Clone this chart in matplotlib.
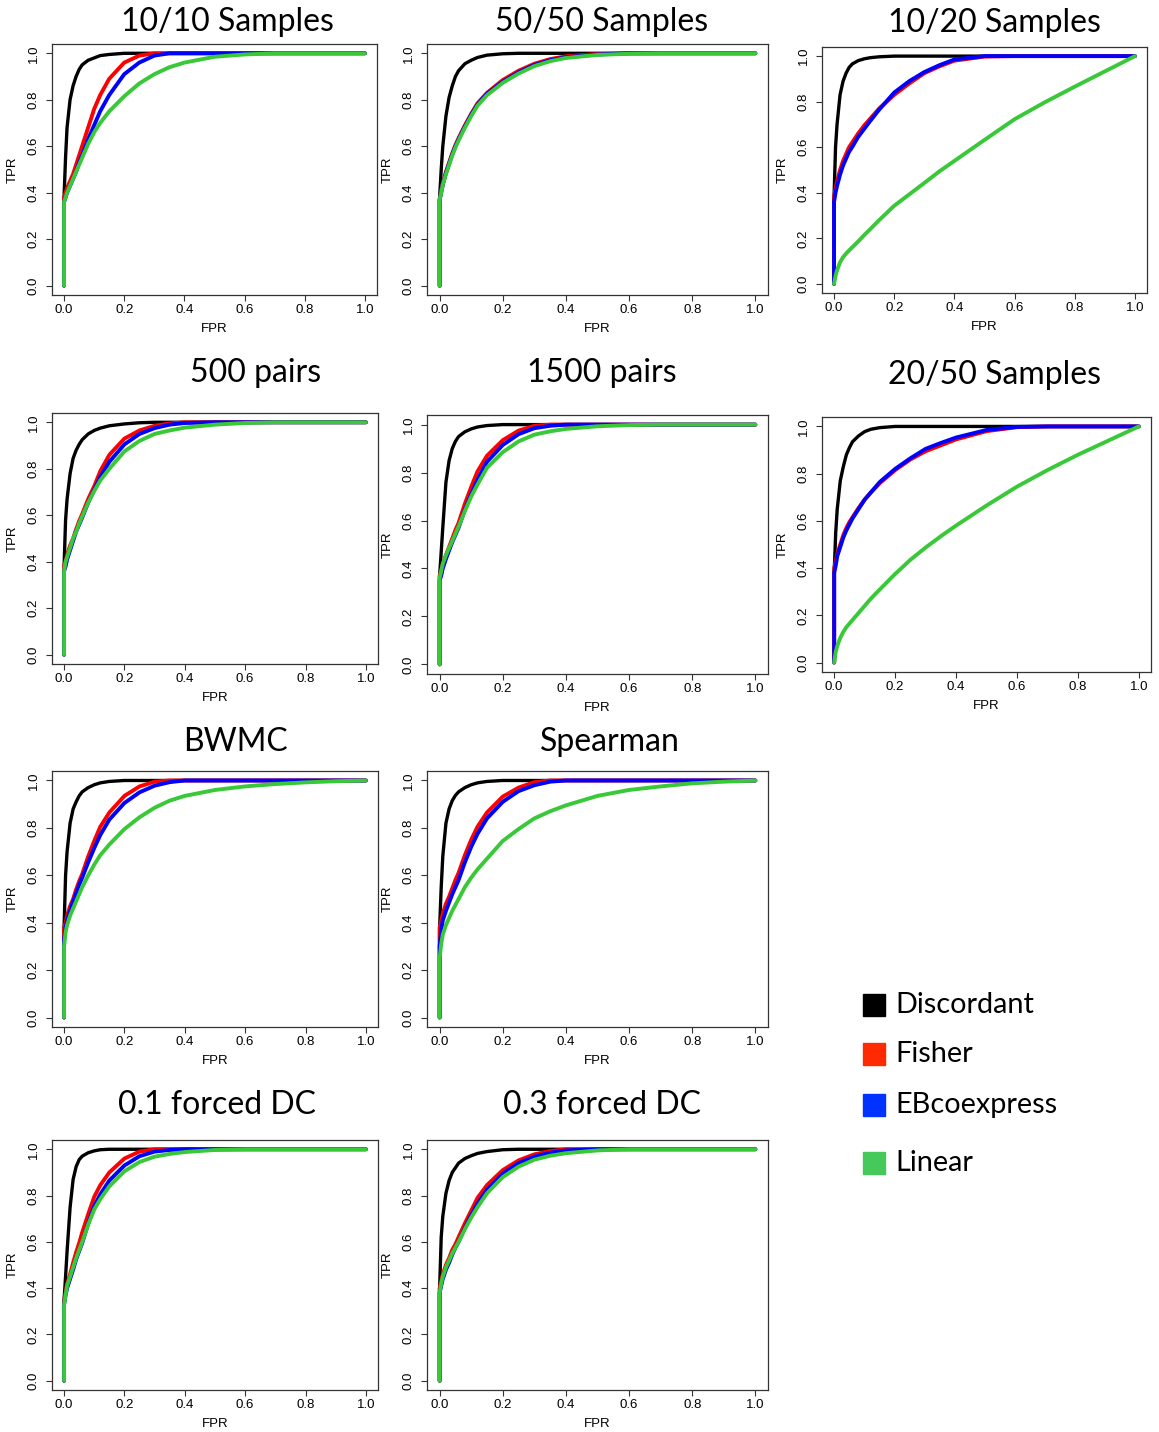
import matplotlib
matplotlib.use("Agg")
import matplotlib.pyplot as plt
from matplotlib.patches import Rectangle

# ROC curves, all read on the same FPR grid (first two points: start and jump at FPR=0)
fpr = [0, 0, 0.005, 0.01, 0.02, 0.03, 0.04, 0.05, 0.06, 0.08, 0.1, 0.12,
       0.15, 0.2, 0.25, 0.3, 0.35, 0.4, 0.5, 0.6, 0.7, 0.8, 0.9, 1.0]

methods = ["Discordant", "Fisher", "EBcoexpress", "Linear"]
line_colors = ["#000000", "#ff0000", "#0000ff", "#38c838"]
legend_colors = ["#000000", "#ff2a00", "#0033ff", "#44c95a"]

tpr_10_10 = {
    "Discordant":  [0, .38, .55, .68, .80, .86, .90, .93, .95, .97, .98, .99, .995, 1, 1, 1, 1, 1, 1, 1, 1, 1, 1, 1],
    "Fisher":      [0, .38, .40, .42, .45, .48, .52, .56, .60, .68, .76, .82, .89, .96, .99, 1, 1, 1, 1, 1, 1, 1, 1, 1],
    "EBcoexpress": [0, .36, .38, .40, .43, .46, .49, .53, .56, .63, .69, .75, .82, .91, .96, .99, 1, 1, 1, 1, 1, 1, 1, 1],
    "Linear":      [0, .36, .38, .40, .43, .46, .49, .52, .55, .61, .66, .70, .75, .815, .87, .91, .94, .96, .985, .995, 1, 1, 1, 1],
}
tpr_50_50 = {
    "Discordant":  [0, .38, .50, .60, .73, .81, .86, .90, .925, .955, .97, .982, .992, .998, 1, 1, 1, 1, 1, 1, 1, 1, 1, 1],
    "Fisher":      [0, .37, .41, .44, .49, .53, .57, .605, .635, .69, .74, .785, .83, .885, .925, .955, .975, .987, .997, 1, 1, 1, 1, 1],
    "EBcoexpress": [0, .37, .40, .435, .485, .525, .565, .60, .63, .685, .735, .78, .825, .878, .918, .95, .97, .983, .995, 1, 1, 1, 1, 1],
    "Linear":      [0, .37, .40, .435, .48, .52, .56, .595, .625, .68, .73, .775, .82, .873, .913, .945, .966, .98, .993, .998, 1, 1, 1, 1],
}
tpr_10_20 = {
    "Discordant":  [0, .38, .60, .70, .83, .89, .925, .95, .965, .98, .988, .993, .997, 1, 1, 1, 1, 1, 1, 1, 1, 1, 1, 1],
    "Fisher":      [0, .38, .42, .45, .50, .54, .57, .60, .62, .66, .695, .725, .77, .83, .88, .925, .955, .98, .998, 1, 1, 1, 1, 1],
    "EBcoexpress": [0, .36, .40, .43, .48, .52, .55, .58, .60, .645, .68, .715, .765, .84, .89, .93, .96, .985, 1, 1, 1, 1, 1, 1],
    "Linear":      [0, 0, .035, .06, .095, .117, .133, .147, .16, .186, .214, .24, .28, .343, .393, .443, .494, .54, .632, .723, .797, .866, .933, 1],
}
tpr_500 = {
    "Discordant":  [0, .38, .58, .67, .78, .845, .88, .905, .925, .95, .965, .975, .985, .993, .998, 1, 1, 1, 1, 1, 1, 1, 1, 1],
    "Fisher":      [0, .38, .40, .43, .47, .50, .54, .575, .605, .67, .725, .79, .86, .93, .965, .985, .995, 1, 1, 1, 1, 1, 1, 1],
    "EBcoexpress": [0, .36, .38, .41, .45, .49, .53, .56, .59, .655, .71, .765, .83, .905, .95, .975, .99, .997, 1, 1, 1, 1, 1, 1],
    "Linear":      [0, .36, .40, .42, .46, .50, .53, .565, .595, .655, .705, .75, .80, .875, .92, .95, .965, .977, .99, .997, 1, 1, 1, 1],
}
tpr_1500 = {
    "Discordant":  [0, .37, .47, .57, .76, .85, .90, .93, .95, .97, .982, .99, .996, 1, 1, 1, 1, 1, 1, 1, 1, 1, 1, 1],
    "Fisher":      [0, .37, .39, .42, .455, .49, .525, .56, .59, .67, .74, .805, .87, .935, .975, .995, 1, 1, 1, 1, 1, 1, 1, 1],
    "EBcoexpress": [0, .35, .37, .40, .44, .475, .51, .54, .57, .645, .71, .77, .845, .915, .96, .985, .995, 1, 1, 1, 1, 1, 1, 1],
    "Linear":      [0, .36, .39, .42, .455, .485, .515, .545, .575, .64, .70, .75, .82, .885, .93, .958, .972, .982, .993, .998, 1, 1, 1, 1],
}
tpr_20_50 = {
    "Discordant":  [0, .38, .55, .65, .77, .83, .88, .91, .935, .96, .978, .988, .995, 1, 1, 1, 1, 1, 1, 1, 1, 1, 1, 1],
    "Fisher":      [0, .40, .43, .46, .50, .54, .57, .595, .615, .655, .69, .72, .76, .815, .86, .895, .92, .945, .98, .997, 1, 1, 1, 1],
    "EBcoexpress": [0, .38, .41, .45, .49, .53, .56, .585, .61, .65, .69, .72, .765, .82, .865, .905, .93, .953, .985, .998, 1, 1, 1, 1],
    "Linear":      [0, 0, .045, .07, .105, .13, .15, .165, .18, .21, .24, .27, .31, .375, .435, .487, .535, .58, .665, .745, .815, .88, .94, 1],
}
tpr_bwmc = {
    "Discordant":  [0, .38, .60, .70, .82, .88, .91, .935, .952, .97, .982, .99, .996, 1, 1, 1, 1, 1, 1, 1, 1, 1, 1, 1],
    "Fisher":      [0, .38, .40, .43, .47, .50, .54, .575, .605, .68, .745, .805, .865, .935, .975, .995, 1, 1, 1, 1, 1, 1, 1, 1],
    "EBcoexpress": [0, .33, .38, .41, .45, .49, .525, .56, .59, .655, .715, .77, .835, .905, .95, .978, .993, 1, 1, 1, 1, 1, 1, 1],
    "Linear":      [0, .30, .36, .39, .43, .46, .49, .52, .55, .60, .645, .685, .73, .795, .845, .885, .915, .935, .96, .975, .985, .992, .997, 1],
}
tpr_spearman = {
    "Discordant":  [0, .38, .55, .68, .82, .88, .915, .937, .952, .97, .982, .99, .996, 1, 1, 1, 1, 1, 1, 1, 1, 1, 1, 1],
    "Fisher":      [0, .38, .41, .44, .48, .51, .545, .58, .61, .685, .75, .805, .865, .932, .97, .993, 1, 1, 1, 1, 1, 1, 1, 1],
    "EBcoexpress": [0, .30, .37, .41, .45, .485, .52, .55, .58, .655, .72, .775, .84, .91, .955, .98, .995, 1, 1, 1, 1, 1, 1, 1],
    "Linear":      [0, .25, .31, .35, .39, .42, .45, .475, .50, .55, .59, .625, .67, .745, .795, .84, .87, .895, .935, .96, .975, .988, .995, 1],
}
tpr_forced_01 = {
    "Discordant":  [0, .35, .45, .56, .75, .87, .925, .955, .97, .985, .993, .998, 1, 1, 1, 1, 1, 1, 1, 1, 1, 1, 1, 1],
    "Fisher":      [0, .34, .38, .42, .46, .51, .555, .595, .64, .72, .795, .845, .90, .96, .99, 1, 1, 1, 1, 1, 1, 1, 1, 1],
    "EBcoexpress": [0, .33, .37, .40, .44, .48, .525, .56, .595, .68, .755, .805, .865, .93, .97, .99, .997, 1, 1, 1, 1, 1, 1, 1],
    "Linear":      [0, .33, .37, .41, .45, .49, .53, .565, .60, .675, .74, .785, .84, .905, .945, .968, .98, .988, .997, 1, 1, 1, 1, 1],
}
tpr_forced_03 = {
    "Discordant":  [0, .40, .62, .71, .81, .865, .90, .92, .94, .96, .972, .982, .99, .998, 1, 1, 1, 1, 1, 1, 1, 1, 1, 1],
    "Fisher":      [0, .40, .43, .46, .50, .53, .565, .59, .62, .68, .735, .79, .845, .91, .952, .978, .992, 1, 1, 1, 1, 1, 1, 1],
    "EBcoexpress": [0, .38, .41, .44, .48, .51, .545, .575, .60, .66, .715, .765, .825, .895, .94, .968, .985, .995, 1, 1, 1, 1, 1, 1],
    "Linear":      [0, .38, .42, .45, .49, .52, .55, .575, .60, .655, .705, .75, .81, .88, .925, .955, .972, .983, .995, 1, 1, 1, 1, 1],
}

W, H = 1159, 1432
fig = plt.figure(figsize=(W / 100, H / 100), dpi=100)

title_font = ["Lato", "DejaVu Sans"]
axis_font = ["Liberation Sans", "DejaVu Sans"]

# title, curves, plot box in pixels (left, top, right, bottom), title centre in pixels
panels = [
    ("10/10 Samples", tpr_10_10, (52, 44, 377, 295), (227, 22)),
    ("50/50 Samples", tpr_50_50, (427, 44, 768, 295), (602, 22)),
    ("10/20 Samples", tpr_10_20, (822, 47, 1147, 293), (994, 23)),
    ("500 pairs", tpr_500, (52, 413, 378, 664), (256, 373)),
    ("1500 pairs", tpr_1500, (427, 415, 768, 674), (602, 373)),
    ("20/50 Samples", tpr_20_50, (822, 417, 1151, 672), (994, 375)),
    ("BWMC", tpr_bwmc, (52, 771, 378, 1027), (236, 742)),
    ("Spearman", tpr_spearman, (427, 771, 768, 1027), (610, 742)),
    ("0.1 forced DC", tpr_forced_01, (52, 1140, 378, 1390), (217, 1105)),
    ("0.3 forced DC", tpr_forced_03, (427, 1140, 768, 1390), (602, 1105)),
]

ticks = [0.0, 0.2, 0.4, 0.6, 0.8, 1.0]
for title, curves, (l, t, r, b), (tx, ty) in panels:
    ax = fig.add_axes([l / W, 1 - b / H, (r - l) / W, (b - t) / H])
    for m, c in zip(methods, line_colors):
        ax.plot(fpr, curves[m], color=c, lw=2.8 if m != "Discordant" else 2.4,
                solid_capstyle="round", solid_joinstyle="round")
    ax.set_xlim(-0.04, 1.04)
    ax.set_ylim(-0.04, 1.04)
    ax.set_xticks(ticks)
    ax.set_yticks(ticks)
    ax.set_xticklabels([f"{v:.1f}" for v in ticks], fontfamily=axis_font, fontsize=9.5)
    ax.set_yticklabels([f"{v:.1f}" for v in ticks], fontfamily=axis_font, fontsize=9.5,
                       rotation=90, va="center")
    ax.tick_params(direction="out", length=4, width=0.8, color="#333333")
    ax.tick_params(axis="x", pad=2.5)
    ax.tick_params(axis="y", pad=5)
    for s in ax.spines.values():
        s.set_color("#333333")
        s.set_linewidth(0.9)
    ax.set_xlabel("FPR", fontfamily=axis_font, fontsize=9.5, labelpad=5)
    ax.set_ylabel("TPR", fontfamily=axis_font, fontsize=9.5, labelpad=6)
    fig.text(tx / W, 1 - ty / H, title, fontfamily=title_font, fontsize=23,
             ha="center", va="center")

# legend drawn as coloured squares with labels
legend_rows = [1005, 1054, 1105, 1163]
for m, c, y in zip(methods, legend_colors, legend_rows):
    fig.patches.append(Rectangle((863 / W, 1 - (y + 11) / H), 22 / W, 22 / H,
                                 transform=fig.transFigure, color=c))
    fig.text(895 / W, 1 - y / H, m, fontfamily=title_font, fontsize=20.8,
             ha="left", va="center")

fig.savefig("out.png", dpi=100, facecolor="white")
